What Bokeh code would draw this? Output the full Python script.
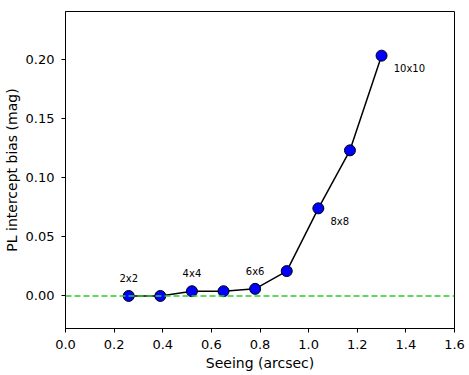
from bokeh.plotting import figure
from bokeh.models import Range1d, FixedTicker, Span
from bokeh.embed import file_html
from bokeh.resources import INLINE
from bokeh.core.properties import value

seeing = [0.26, 0.39, 0.52, 0.65, 0.78, 0.91, 1.04, 1.17, 1.30]
bias = [0.000, 0.000, 0.004, 0.004, 0.006, 0.021, 0.074, 0.123, 0.203]

lab_text = ["2x2", "4x4", "6x6"]
lab_x = [0.26, 0.52, 0.78]
lab_y = [0.015, 0.019, 0.021]
lab2_text = ["8x8", "10x10"]
lab2_x = [1.09, 1.35]
lab2_y = [0.063, 0.192]

xticks = [0.0, 0.2, 0.4, 0.6, 0.8, 1.0, 1.2, 1.4, 1.6]
yticks = [0.00, 0.05, 0.10, 0.15, 0.20]

FONT = "DejaVu Sans"

p = figure(width=469, height=375, output_backend="svg", toolbar_location=None,
           x_range=Range1d(0, 1.6), y_range=Range1d(-0.0275, 0.2403),
           min_border_left=65, min_border_right=15, min_border_top=11, min_border_bottom=47)
p.grid.visible = False
p.outline_line_color = "black"
p.outline_line_width = 1

p.add_layout(Span(location=0, dimension="width", line_color="#2ecc2e",
                  line_dash="6 3", line_width=1.5))

p.line(seeing, bias, line_color="black", line_width=1.5)
p.scatter(seeing, bias, size=11, fill_color="#0000ff", line_color="black", line_width=1)

p.text(lab_x, lab_y, text=lab_text, text_font=value(FONT), text_font_size="10px",
       text_align="center", text_baseline="middle", text_color="black")
p.text(lab2_x, lab2_y, text=lab2_text, text_font=value(FONT), text_font_size="10px",
       text_align="left", text_baseline="middle", text_color="black")

for ax in (p.xaxis[0], p.yaxis[0]):
    ax.major_label_text_font = FONT
    ax.major_label_text_font_size = "13px"
    ax.axis_label_text_font = FONT
    ax.axis_label_text_font_size = "14px"
    ax.axis_label_text_font_style = "normal"
    ax.minor_tick_line_color = None
    ax.major_tick_out = 4
    ax.major_tick_in = 0
    ax.axis_line_color = "black"
    ax.major_tick_line_color = "black"
    ax.major_label_text_color = "black"
    ax.axis_label_text_color = "black"
    ax.major_label_standoff = 7

p.xaxis.ticker = FixedTicker(ticks=xticks)
p.yaxis.ticker = FixedTicker(ticks=yticks)
p.xaxis.major_label_overrides = {t: f"{t:.1f}" for t in xticks}
p.yaxis.major_label_overrides = {t: f"{t:.2f}" for t in yticks}
p.xaxis.axis_label = "Seeing (arcsec)"
p.yaxis.axis_label = "PL intercept bias (mag)"
p.xaxis.axis_label_standoff = 3
p.yaxis.axis_label_standoff = 3

open("out.html", "w").write(file_html(p, INLINE))
